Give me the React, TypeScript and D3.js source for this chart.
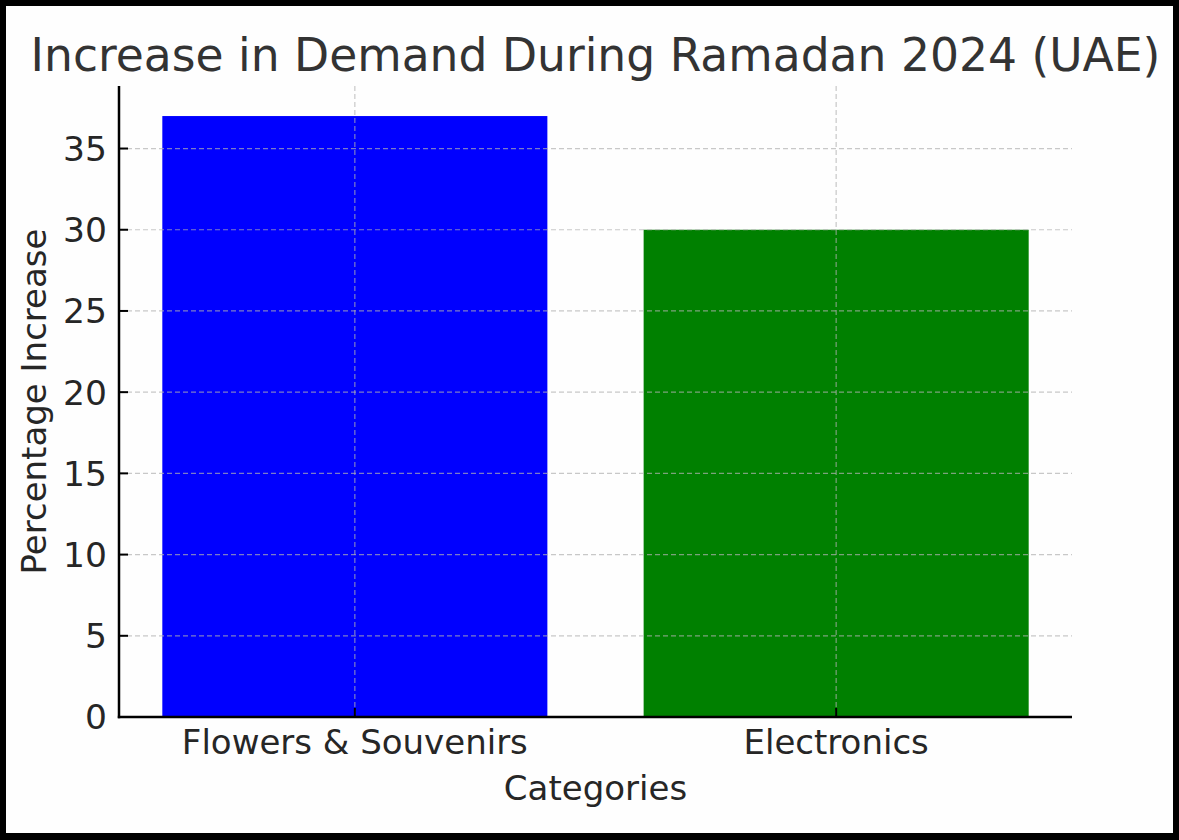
import React from "react";
import * as d3 from "d3";

const categories: string[] = ["Flowers & Souvenirs", "Electronics"];
const values: number[] = [37, 30];
const barColors: string[] = ["#0000ff", "#008000"];
const yTicks: number[] = [0, 5, 10, 15, 20, 25, 30, 35];
const titleText = "Increase in Demand During Ramadan 2024 (UAE)";
const xLabelText = "Categories";
const yLabelText = "Percentage Increase";

const W = 1179;
const H = 840;
const margin = { left: 119, right: 1072, top: 86, bottom: 717 };
const FONT = "'DejaVu Sans', sans-serif";
const TEXT = "#262626";

export default function App() {
  const x = d3.scaleLinear().domain([-0.49, 1.49]).range([margin.left, margin.right]);
  const yMax = d3.max(values)! * 1.05;
  const y = d3.scaleLinear().domain([0, yMax]).range([margin.bottom, margin.top]);
  const barW = 0.8;

  return (
    <svg
      width={W}
      height={H}
      style={{ position: "absolute", left: 0, top: 0, fontFamily: FONT }}
    >
      <rect x={0} y={0} width={W} height={H} fill="#000" />
      <rect x={6} y={6} width={W - 12} height={H - 13} fill="#fefefe" />

      {/* bars */}
      {values.map((v, i) => (
        <rect
          key={i}
          x={x(i - barW / 2)}
          y={y(v)}
          width={x(i + barW / 2) - x(i - barW / 2)}
          height={y(0) - y(v)}
          fill={barColors[i]}
        />
      ))}

      {/* grid */}
      {yTicks.map((t) => (
        <line
          key={"gy" + t}
          x1={margin.left}
          x2={margin.right}
          y1={y(t)}
          y2={y(t)}
          stroke="#b0b0b0"
          strokeOpacity={0.7}
          strokeWidth={1.2}
          strokeDasharray="5,3"
        />
      ))}
      {categories.map((c, i) => (
        <line
          key={"gx" + i}
          x1={x(i)}
          x2={x(i)}
          y1={margin.top}
          y2={margin.bottom}
          stroke="#b0b0b0"
          strokeOpacity={0.7}
          strokeWidth={1.2}
          strokeDasharray="5,3"
        />
      ))}

      {/* spines */}
      <line x1={margin.left} x2={margin.left} y1={margin.top} y2={margin.bottom + 1.2} stroke="#000" strokeWidth={2.5} />
      <line x1={margin.left - 1.2} x2={margin.right} y1={margin.bottom} y2={margin.bottom} stroke="#000" strokeWidth={2.5} />

      {/* y ticks */}
      {yTicks.map((t) => (
        <g key={"ty" + t}>
          <line x1={margin.left} x2={margin.left + 9} y1={y(t)} y2={y(t)} stroke="#000" strokeWidth={2} />
          <text
            x={107}
            y={y(t)}
            dy="0.36em"
            textAnchor="end"
            fontSize={34.5}
            fill={TEXT}
          >
            {t}
          </text>
        </g>
      ))}

      {/* x ticks */}
      {categories.map((c, i) => (
        <g key={"tx" + i}>
          <line x1={x(i)} x2={x(i)} y1={margin.bottom} y2={margin.bottom - 9} stroke="#000" strokeWidth={2} />
          <text x={x(i)} y={754} textAnchor="middle" fontSize={34} fill={TEXT}>
            {c}
          </text>
        </g>
      ))}

      {/* axis labels */}
      <text x={(margin.left + margin.right) / 2} y={800} textAnchor="middle" fontSize={34} fill={TEXT}>
        {xLabelText}
      </text>
      <text
        transform={`translate(46, ${(margin.top + margin.bottom) / 2}) rotate(-90)`}
        textAnchor="middle"
        fontSize={34}
        fill={TEXT}
      >
        {yLabelText}
      </text>

      {/* title */}
      <text x={(margin.left + margin.right) / 2} y={71} textAnchor="middle" fontSize={45.6} fill="#333">
        {titleText}
      </text>
    </svg>
  );
}
